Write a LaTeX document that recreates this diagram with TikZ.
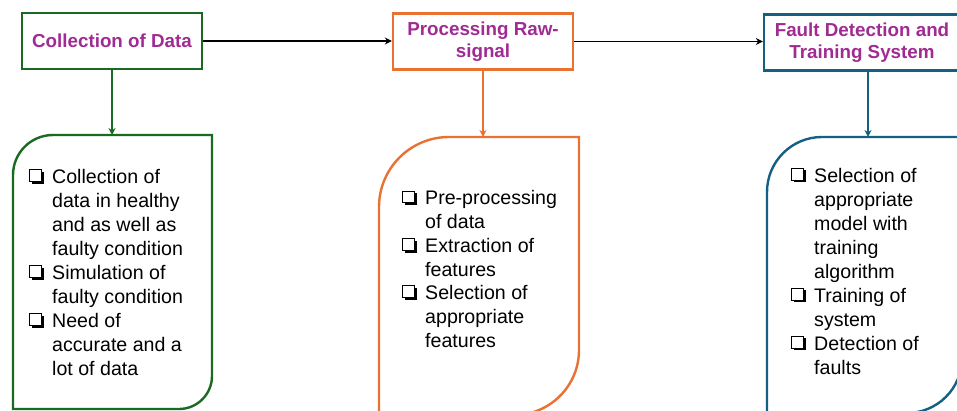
\documentclass[tikz,border=0pt]{standalone}
\usepackage{fontspec}
\setmainfont{Liberation Sans}
\usetikzlibrary{arrows.meta,calc}
\definecolor{cgreen}{HTML}{196B24}
\definecolor{corange}{HTML}{E97132}
\definecolor{cblue}{HTML}{156082}
\definecolor{cpurple}{HTML}{A02B93}
\newcommand{\chkbox}{\tikz[baseline=0pt,x=1pt,y=1pt]{%
  \fill[black] (2.2,-0.2) rectangle (14,11.6);
  \draw[line width=1pt,fill=white] (0,2) rectangle (11.8,13.8);}}
\newcommand{\bx}{\makebox[23pt][l]{\chkbox}}
\newcommand{\ind}{\hspace*{23pt}}
\begin{document}
\begin{tikzpicture}[x=1pt,y=1pt,
  titlebox/.style={draw,line width=2.4pt,fill=white,minimum height=56pt,inner sep=0pt,
    align=center,text=cpurple,font=\bfseries\fontsize{18.8}{21.5}\selectfont},
  holder/.style={inner sep=0pt,outer sep=0pt},
  listtext/.style={inner sep=0pt,anchor=west,align=left,text=black},
  flow/.style={line width=1.8pt,-{Stealth[length=7pt,width=7pt]}},
  outline/.style={line width=2.4pt}]
\useasboundingbox (0,0) rectangle (957,410);
\fill[white] (0,0) rectangle (957,410);
\clip (0,0) rectangle (957,410);

% title boxes
\node[titlebox,draw=cgreen,minimum width=180pt] (t1) at (112,369) {Collection of Data};
\node[titlebox,draw=corange,minimum width=180pt] (t2) at (483,368.5) {Processing Raw-\\signal};
\node[titlebox,draw=cblue,minimum width=196pt] (t3) at (862,367.5) {Fault Detection and\\Training System};

% holders for the rounded boxes
\node[holder,minimum width=199pt,minimum height=274pt] (d1) at (112.5,138) {};
\node[holder,minimum width=200pt,minimum height=278pt] (d2) at (479,134) {};
\node[holder,minimum width=195pt,minimum height=276pt] (d3) at (864.5,135) {};

\draw[outline,cgreen] (d1.south west) -- ([yshift=-40pt]d1.north west)
  arc[start angle=180,end angle=90,radius=40pt] -- (d1.north east)
  -- ([yshift=33pt]d1.south east) arc[start angle=0,end angle=-90,radius=33pt] -- cycle;
\draw[outline,corange] (d2.south west) -- ([yshift=-70pt]d2.north west)
  arc[start angle=180,end angle=90,radius=70pt] -- (d2.north east)
  -- ([yshift=65pt]d2.south east) arc[start angle=0,end angle=-90,radius=65pt] -- cycle;
\draw[outline,cblue] (d3.south west) -- ([yshift=-55pt]d3.north west)
  arc[start angle=180,end angle=90,radius=55pt] -- (d3.north east)
  -- ([yshift=55pt]d3.south east) arc[start angle=0,end angle=-90,radius=55pt] -- cycle;

% list texts
\node[listtext,font=\fontsize{19.6}{24}\selectfont] (l1) at (29,137.5) {%
\bx Collection of\\ \ind data in healthy\\ \ind and as well as\\ \ind faulty condition\\
\bx Simulation of\\ \ind faulty condition\\ \bx Need of\\ \ind accurate and a\\ \ind lot of data};
\node[listtext,font=\fontsize{19.6}{23.7}\selectfont] (l2) at (402,141) {%
\bx Pre-processing\\ \ind of data\\ \bx Extraction of\\ \ind features\\
\bx Selection of\\ \ind appropriate\\ \ind features};
\node[listtext,font=\fontsize{19.6}{24}\selectfont] (l3) at (791,139) {%
\bx Selection of\\ \ind appropriate\\ \ind model with\\ \ind training\\ \ind algorithm\\
\bx Training of\\ \ind system\\ \bx Detection of\\ \ind faults};

% connectors
\draw[flow,black] (t1.east) -- (t1.east -| t2.west);
\draw[flow,black] (t2.east) -- (t2.east -| t3.west);
\draw[flow,cgreen] (t1.south) -- (t1.south |- d1.north);
\draw[flow,corange] (t2.south) -- (t2.south |- d2.north);
\draw[flow,cblue] ([xshift=6pt]t3.south) -- ([xshift=6pt]t3.south |- d3.north);
\end{tikzpicture}
\end{document}
